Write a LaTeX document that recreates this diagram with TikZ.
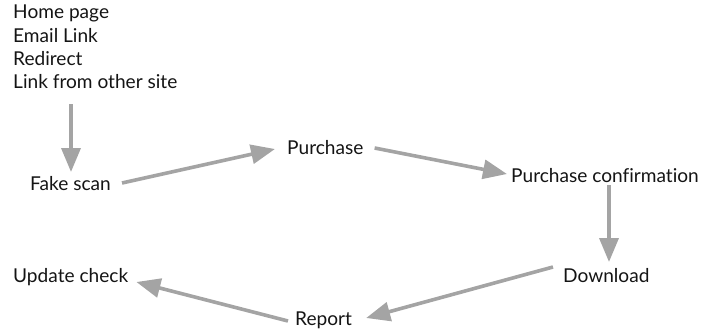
\documentclass[tikz,border=0pt]{standalone}
\usepackage{fontspec}
\setmainfont{Lato}[Ligatures=NoCommon]
\usetikzlibrary{arrows.meta,calc}
\definecolor{arrgray}{RGB}{164,164,164}
\definecolor{txt}{RGB}{20,20,20}
\tikzset{
  lbl/.style={inner sep=0pt, text=txt, font=\fontsize{19.1}{23.3}\selectfont},
  arr/.style={draw=arrgray, line width=3.6pt, -{Triangle[length=24pt,width=19pt]}}
}
\begin{document}
\begin{tikzpicture}[x=1pt,y=-1pt]
\useasboundingbox (0,0) rectangle (702,335);
\node[lbl, anchor=north west, align=left] (src) at (13,5) {Home page\\Email Link\\Redirect\\Link from other site};
\node[lbl, anchor=west] (fake) at (30,184) {Fake scan};
\node[lbl, anchor=west] (pur) at (287,148) {Purchase};
\node[lbl, anchor=west] (pc) at (511,176) {Purchase confirmation};
\node[lbl, anchor=west] (dl) at (563,276) {Download};
\node[lbl, anchor=west] (rep) at (295,320) {Report};
\node[lbl, anchor=west] (upd) at (13,277) {Update check};
\draw[arr] (src.south -| 71,0) ++(0,15) -- (71,172);
\draw[arr] ([xshift=11pt,yshift=1pt]fake.east) -- ([xshift=-12pt,yshift=-1pt]pur.west);
\draw[arr] ([xshift=11pt]pur.east) -- ([xshift=-4pt,yshift=2pt]pc.west);
\draw[arr] (pc.south -| 609,0) ++(0,2) -- (609,262);
\draw[arr] ([xshift=-10pt,yshift=9pt]dl.west) -- ([xshift=14pt,yshift=2pt]rep.east);
\draw[arr] ([xshift=-7pt,yshift=-1pt]rep.west) -- ([xshift=8pt,yshift=-5pt]upd.east);
\end{tikzpicture}
\end{document}
